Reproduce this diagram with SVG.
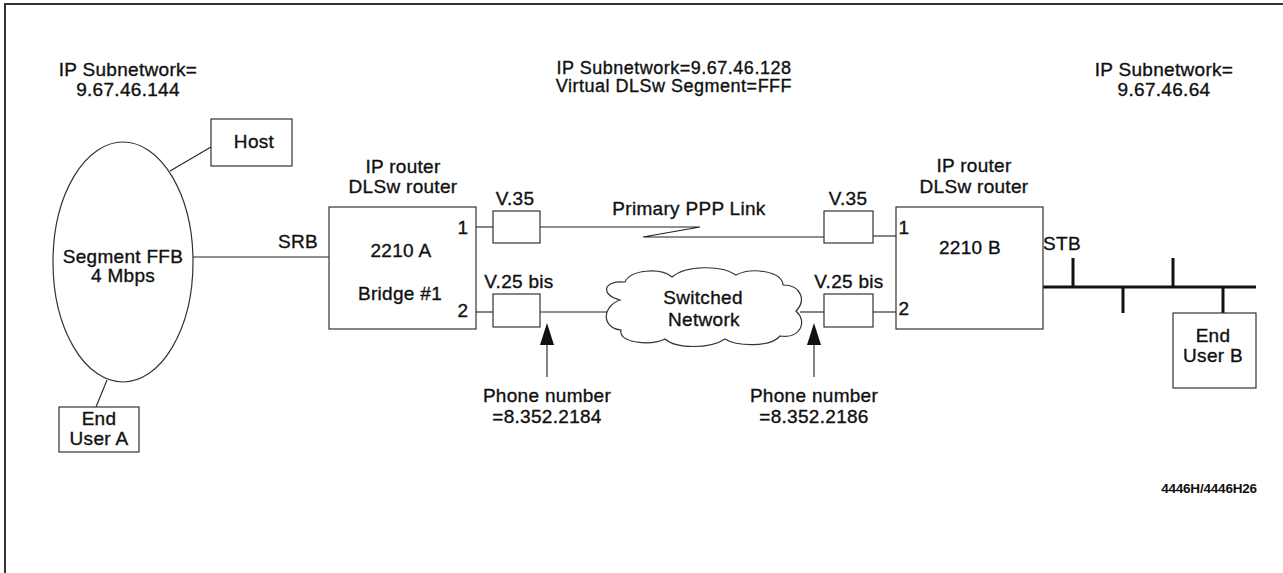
<svg xmlns="http://www.w3.org/2000/svg" width="1283" height="573" viewBox="0 0 1283 573">
<style>
text{font-family:"Liberation Sans",Arial,sans-serif;font-size:19px;letter-spacing:0.3px;fill:#111;stroke:#111;stroke-width:0.35;text-anchor:middle}
.box{fill:#fff;stroke:#333;stroke-width:1.2}
.ln{fill:none;stroke:#222;stroke-width:1.1}
.bus{fill:none;stroke:#111;stroke-width:3}
.arr{fill:#111;stroke:none}
.mid{font-size:18px;letter-spacing:0.5px}
.small{font-size:13.5px;font-weight:bold;letter-spacing:-0.2px;stroke-width:0}
</style>
<rect x="5" y="4" width="1300" height="600" fill="#fff" stroke="#333" stroke-width="2"/>

<g id="labels">
<text x="128" y="76">IP Subnetwork=</text>
<text x="128" y="96">9.67.46.144</text>
<text x="674" y="74" class="mid">IP Subnetwork=9.67.46.128</text>
<text x="674" y="92" class="mid">Virtual DLSw Segment=FFF</text>
<text x="1164" y="76">IP Subnetwork=</text>
<text x="1164" y="96">9.67.46.64</text>
<text x="1209" y="493" class="small">4446H/4446H26</text>
</g>

<g id="connectors">
<line class="ln" x1="170" y1="171" x2="211" y2="147"/>
<line class="ln" x1="107" y1="380" x2="96" y2="407"/>
<line class="ln" x1="193" y1="257" x2="329" y2="257"/>
<line class="ln" x1="476" y1="227" x2="493" y2="227"/>
<polyline class="ln" points="540,227 700,227 643,237 824,237"/>
<line class="ln" x1="873" y1="236" x2="896" y2="236"/>
<line class="ln" x1="476" y1="312" x2="493" y2="312"/>
<line class="ln" x1="540" y1="312" x2="610" y2="312"/>
<line class="ln" x1="800" y1="312" x2="824" y2="312"/>
<line class="ln" x1="873" y1="312" x2="896" y2="312"/>
<line class="ln" x1="547" y1="377" x2="547" y2="340"/>
<polygon class="arr" points="547,323 554,345 540,345"/>
<line class="ln" x1="814" y1="377" x2="814" y2="340"/>
<polygon class="arr" points="814,323 821,345 807,345"/>
<line class="bus" x1="1039" y1="287" x2="1256" y2="287"/>
<line class="bus" x1="1073" y1="258" x2="1073" y2="287"/>
<line class="bus" x1="1123" y1="287" x2="1123" y2="313"/>
<line class="bus" x1="1173" y1="258" x2="1173" y2="287"/>
<line class="bus" x1="1223" y1="287" x2="1223" y2="313"/>
<text x="298" y="248">SRB</text>
<text x="689" y="215">Primary PPP Link</text>
<text x="1062" y="250">STB</text>
</g>

<g id="segment">
<ellipse class="box" cx="123" cy="262" rx="70" ry="120"/>
<text x="123" y="263">Segment FFB</text>
<text x="123" y="282">4 Mbps</text>
</g>

<g id="host">
<rect class="box" x="211" y="119" width="81" height="47"/>
<text x="254" y="148">Host</text>
</g>

<g id="enduserA">
<rect class="box" x="59" y="407" width="80" height="45"/>
<text x="99" y="425">End</text>
<text x="99" y="445">User A</text>
</g>

<g id="router2210A">
<text x="403" y="173">IP router</text>
<text x="403" y="193">DLSw router</text>
<rect class="box" x="329" y="207" width="147" height="122"/>
<text x="401" y="257">2210 A</text>
<text x="400" y="300">Bridge #1</text>
<text x="463" y="234">1</text>
<text x="463" y="317">2</text>
</g>

<g id="v35A">
<rect class="box" x="493" y="211" width="47" height="32"/>
<text x="515" y="205">V.35</text>
</g>

<g id="v25A">
<rect class="box" x="493" y="294" width="47" height="33"/>
<text x="519" y="288">V.25 bis</text>
</g>

<g id="cloud">
<path class="box" d="M620,300 C600,295 603,280 625,282 C630,270 660,267 672,277 C686,265 722,265 736,275 C752,267 782,271 783,285 C802,285 806,301 796,311 C808,322 800,339 780,336 C770,348 736,346 725,339 C710,349 676,349 665,339 C650,346 618,343 621,330 C602,328 601,307 620,300 Z"/>
<text x="703" y="304">Switched</text>
<text x="704" y="326">Network</text>
</g>

<g id="phoneA">
<text x="547" y="402">Phone number</text>
<text x="547" y="423">=8.352.2184</text>
</g>

<g id="phoneB">
<text x="814" y="402">Phone number</text>
<text x="814" y="423">=8.352.2186</text>
</g>

<g id="v35B">
<rect class="box" x="824" y="211" width="49" height="32"/>
<text x="848" y="205">V.35</text>
</g>

<g id="v25B">
<rect class="box" x="824" y="294" width="49" height="33"/>
<text x="849" y="288">V.25 bis</text>
</g>

<g id="router2210B">
<text x="974" y="172">IP router</text>
<text x="974" y="193">DLSw router</text>
<rect class="box" x="896" y="207" width="147" height="122"/>
<text x="970" y="254">2210 B</text>
<text x="904" y="234">1</text>
<text x="904" y="315">2</text>
</g>

<g id="enduserB">
<rect class="box" x="1173" y="313" width="83" height="75"/>
<text x="1213" y="342">End</text>
<text x="1213" y="362">User B</text>
</g>
</svg>
